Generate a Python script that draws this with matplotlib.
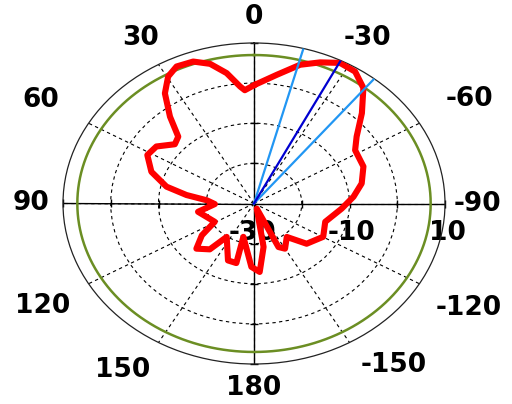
import numpy as np
import matplotlib
matplotlib.use("Agg")
import matplotlib.pyplot as plt

# radiation pattern (angle in deg, gain in dB), traced round the curve
pattern_deg = [-0.4, 3.9, 5.7, 10, 14.8, 19.8, 25.4, 29.6, 34.2, 39.1, 43.6, 48.3,
               55.2, 61.6, 69.8, 77.1, 81.5, 85.4, 91, 100, 119, 126, 133, 141,
               145.5, 159, 166, 165, 178, 184, 190.5, 204.1, 205.3, 210, 219.5,
               227.7, 240.2, 253, 266, 274.6, 282.5, 291.9, 302.1, 307.8, 314.9,
               321.5, 327.2, 332.8, 338.5, 344.4, 351.6]
pattern_db = [-0.4, -1.7, -0.7, 3.0, 6.0, 7.6, 7.8, 6.4, 3.2, -2.1, -7.0, -7.8,
              -5.1, -4.6, -7.1, -11.2, -15.7, -20.1, -21.8, -18.1, -20.6, -16.5, -13.5, -15.3,
              -19.9, -14.8, -14.7, -21.4, -14.2, -12.9, -19.0, -28.6, -18.0, -17.0, -19.2,
              -15.1, -13.3, -14.4, -11.6, -9.1, -6.9, -5.3, -5.0, -2.8, 1.9,
              6.8, 9.1, 9.4, 7.8, 5.9, 2.4]

ref_level = 7.0                 # green reference circle
beam_dir = -27                  # main beam direction
beam_edges = [-15, -39]         # half power edges

r_min, r_max = -30, 10
ring_levels = [-20, -10, 0]
radial_labels = [-30, -10, 10]
angle_ticks = list(range(0, 360, 30))
angle_labels = ["0", "30", "60", "90", "120", "150", "180",
                "-150", "-120", "-90", "-60", "-30"]

fig = plt.figure(figsize=(5.12, 4.04), dpi=100)
ax = fig.add_axes([63 / 512, 40 / 404, 382 / 512, 321 / 404], projection="polar")
ax.set_aspect("auto")
ax.set_theta_zero_location("N")
ax.set_theta_direction(1)
ax.set_rlim(r_min, r_max)

ax.set_xticks(np.deg2rad(angle_ticks))
ax.set_xticklabels([])
ax.set_yticks(ring_levels)
ax.set_yticklabels([])
ax.grid(True, color="black", linestyle=(0, (3, 3)), linewidth=0.8)
ax.spines["polar"].set_linewidth(0.9)
ax.spines["polar"].set_color("#222222")

# solid cross through the centre
for a in [0, 90]:
    t = np.deg2rad(a)
    ax.plot([t, t], [r_min, r_max], color="black", lw=1.0, zorder=2)
    ax.plot([t + np.pi, t + np.pi], [r_min, r_max], color="black", lw=1.0, zorder=2)

# small ticks where the rings cross the axes
tick_r = ring_levels + [r_max]
for a, m in [(90, "|"), (-90, "|"), (0, "_"), (180, "_")]:
    ax.plot(np.deg2rad([a] * len(tick_r)), tick_r, ls="none", marker=m, ms=6, mew=1,
            color="black", zorder=2, clip_on=False)

# reference circle
circ = np.linspace(0, 2 * np.pi, 361)
ax.plot(circ, np.full_like(circ, ref_level), color="#6b8e23", lw=1.8, zorder=3)

# pattern
th = np.deg2rad(pattern_deg + pattern_deg[:1])
g = pattern_db + pattern_db[:1]
ax.plot(th, g, color="#ff0000", lw=4.4, solid_joinstyle="round", solid_capstyle="round", zorder=4)

# beam lines
for a in beam_edges:
    ax.plot([np.deg2rad(a)] * 2, [r_min, r_max], color="#2196f3", lw=1.6, zorder=5)
ax.plot([np.deg2rad(beam_dir)] * 2, [r_min, r_max], color="#0000d0", lw=1.6, zorder=5)

# angle labels
label_rho = {0: 1.16, 30: 1.19, 60: 1.29, 90: 1.17, 120: 1.28, 150: 1.245,
             180: 1.15, 210: 1.245, 240: 1.30, 270: 1.17, 300: 1.30, 330: 1.19}
label_shift = {150: -3.5, 210: 6}
for a, lab in zip(angle_ticks, angle_labels):
    aa = np.deg2rad(a + label_shift.get(a, 0))
    rho = label_rho[a]
    x = 0.5 - 0.5 * rho * np.sin(aa)
    y = 0.5 + 0.5 * rho * np.cos(aa)
    ax.text(x, y, lab, transform=ax.transAxes, ha="center", va="center",
            fontsize=19, fontweight="bold", clip_on=False)

# radial labels, below the right half of the horizontal axis
for v in radial_labels:
    ax.annotate(str(v), xy=(np.deg2rad(-90), v), xytext=(-2 if v == r_min else 2, -30),
                textcoords="offset pixels", ha="center", va="center",
                fontsize=19, fontweight="bold", zorder=1, annotation_clip=False)

fig.savefig("out.png", dpi=100)
